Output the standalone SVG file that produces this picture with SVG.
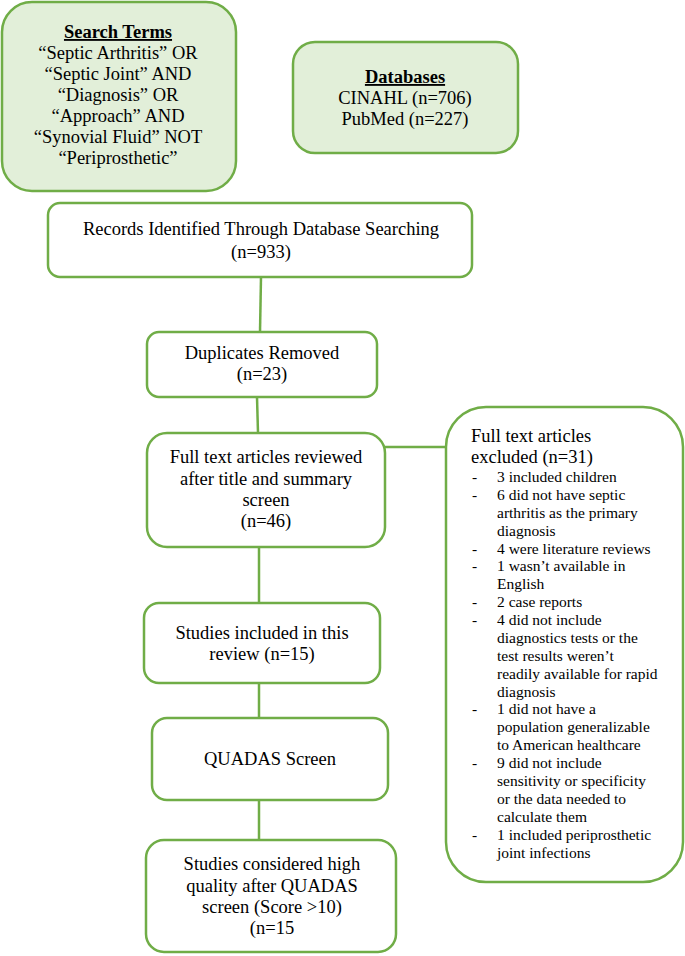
<svg xmlns="http://www.w3.org/2000/svg" width="685" height="956" viewBox="0 0 685 956">
<style>
.box{fill:#ffffff;stroke:#70AD47;stroke-width:2.5}
.gbox{fill:#E2EFD9;stroke:#70AD47;stroke-width:2.5}
.t{font-family:"Liberation Serif","Times New Roman",serif;font-size:18.5px;fill:#000;text-anchor:middle}
.l{font-family:"Liberation Serif","Times New Roman",serif;font-size:18.5px;fill:#000}
.s{font-family:"Liberation Serif","Times New Roman",serif;font-size:15.5px;fill:#000}
.b{font-weight:bold;text-decoration:underline}
.c{stroke:#70AD47;stroke-width:2.5;fill:none}
</style>
<rect width="685" height="956" fill="#ffffff"/>
<g id="connectors">
<line class="c" x1="261" y1="277" x2="260" y2="332"/>
<line class="c" x1="257" y1="397" x2="258" y2="433"/>
<line class="c" x1="385" y1="447" x2="446" y2="447"/>
<line class="c" x1="259" y1="547" x2="259" y2="603"/>
<line class="c" x1="259" y1="683" x2="259" y2="718"/>
<line class="c" x1="259" y1="800" x2="259" y2="840"/>
</g>
<g id="search-terms">
<rect class="gbox" x="2" y="2" width="234" height="189" rx="30"/>
<text class="t" x="118" y="38"><tspan class="b">Search Terms</tspan></text>
<text class="t" x="118" y="59">“Septic Arthritis” OR</text>
<text class="t" x="118" y="80">“Septic Joint” AND</text>
<text class="t" x="118" y="101">“Diagnosis” OR</text>
<text class="t" x="118" y="122">“Approach” AND</text>
<text class="t" x="118" y="143">“Synovial Fluid” NOT</text>
<text class="t" x="118" y="164">“Periprosthetic”</text>
</g>
<g id="databases">
<rect class="gbox" x="293" y="42" width="225" height="111" rx="22"/>
<text class="t" x="405" y="83"><tspan class="b">Databases</tspan></text>
<text class="t" x="405" y="104">CINAHL (n=706)</text>
<text class="t" x="405" y="125">PubMed (n=227)</text>
</g>
<g id="records">
<rect class="box" x="48" y="203" width="424" height="74" rx="12"/>
<text class="t" x="261" y="235">Records Identified Through Database Searching</text>
<text class="t" x="261" y="258">(n=933)</text>
</g>
<g id="duplicates">
<rect class="box" x="147" y="332" width="230" height="65" rx="12"/>
<text class="t" x="262" y="359">Duplicates Removed</text>
<text class="t" x="262" y="380">(n=23)</text>
</g>
<g id="fulltext-reviewed">
<rect class="box" x="147" y="433" width="238" height="114" rx="20"/>
<text class="t" x="266" y="463">Full text articles reviewed</text>
<text class="t" x="266" y="485">after title and summary</text>
<text class="t" x="266" y="506">screen</text>
<text class="t" x="266" y="527">(n=46)</text>
</g>
<g id="excluded">
<rect class="box" x="446" y="407" width="237" height="475" rx="40"/>
<text class="l" x="471" y="442">Full text articles</text>
<text class="l" x="471" y="463">excluded (n=31)</text>
<g class="s">
<text x="472" y="482">-</text><text x="497" y="482">3 included children</text>
<text x="472" y="500">-</text><text x="497" y="500">6 did not have septic</text>
<text x="497" y="518">arthritis as the primary</text>
<text x="497" y="536">diagnosis</text>
<text x="472" y="554">-</text><text x="497" y="554">4 were literature reviews</text>
<text x="472" y="571">-</text><text x="497" y="571">1 wasn’t available in</text>
<text x="497" y="589">English</text>
<text x="472" y="607">-</text><text x="497" y="607">2 case reports</text>
<text x="472" y="625">-</text><text x="497" y="625">4 did not include</text>
<text x="497" y="643">diagnostics tests or the</text>
<text x="497" y="661">test results weren’t</text>
<text x="497" y="679">readily available for rapid</text>
<text x="497" y="697">diagnosis</text>
<text x="472" y="714">-</text><text x="497" y="714">1 did not have a</text>
<text x="497" y="732">population generalizable</text>
<text x="497" y="750">to American healthcare</text>
<text x="472" y="768">-</text><text x="497" y="768">9 did not include</text>
<text x="497" y="786">sensitivity or specificity</text>
<text x="497" y="804">or the data needed to</text>
<text x="497" y="822">calculate them</text>
<text x="472" y="840">-</text><text x="497" y="840">1 included periprosthetic</text>
<text x="497" y="858">joint infections</text>
</g>
</g>
<g id="studies-included">
<rect class="box" x="144" y="603" width="236" height="80" rx="15"/>
<text class="t" x="262" y="639">Studies included in this</text>
<text class="t" x="262" y="660">review (n=15)</text>
</g>
<g id="quadas">
<rect class="box" x="152" y="718" width="236" height="82" rx="15"/>
<text class="t" x="270" y="765">QUADAS Screen</text>
</g>
<g id="high-quality">
<rect class="box" x="146" y="840" width="250" height="112" rx="18"/>
<text class="t" x="272" y="870">Studies considered high</text>
<text class="t" x="272" y="892">quality after QUADAS</text>
<text class="t" x="272" y="913">screen (Score &gt;10)</text>
<text class="t" x="272" y="934">(n=15</text>
</g>
</svg>
